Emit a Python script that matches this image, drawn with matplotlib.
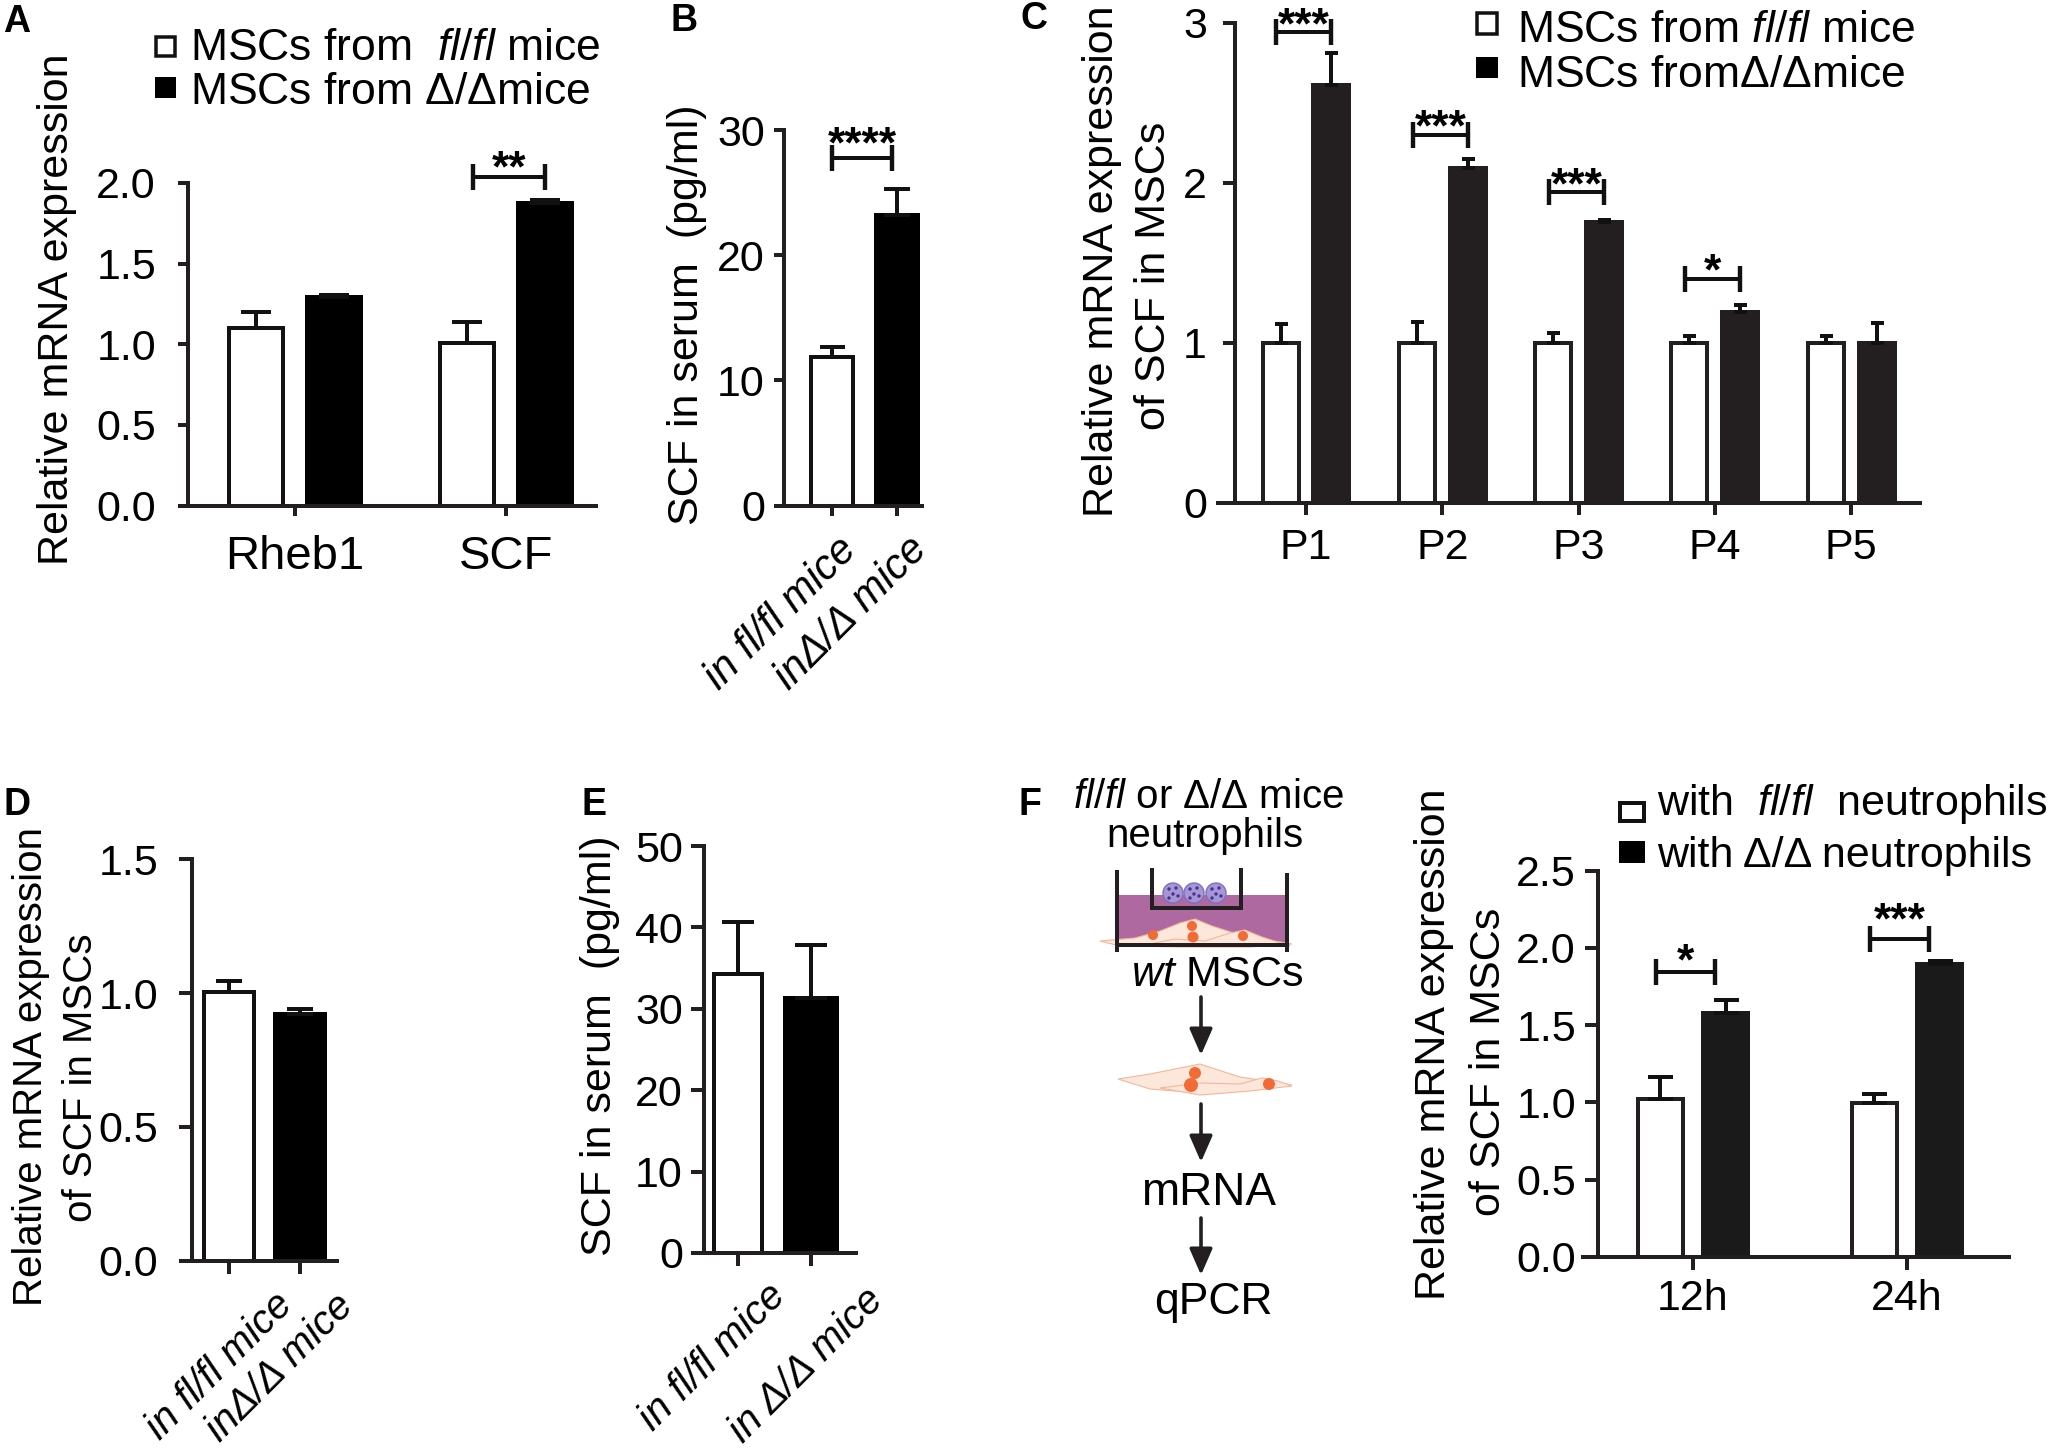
import numpy as np
import matplotlib
matplotlib.use('Agg')
import matplotlib.pyplot as plt
from matplotlib.patches import Rectangle, Circle, Polygon
from matplotlib.ticker import FormatStrFormatter
from matplotlib.transforms import ScaledTranslation

plt.rcParams.update({
    'font.family': ['Liberation Sans', 'DejaVu Sans'],
    'mathtext.fontset': 'custom',
    'mathtext.rm': 'Liberation Sans',
    'mathtext.it': 'Liberation Sans:italic',
    'mathtext.bf': 'Liberation Sans:bold',
    'mathtext.sf': 'Liberation Sans',
})

# ---------------- data ----------------
A_genes = ['Rheb1', 'SCF']
A_fl = [1.10, 1.01]
A_fl_err = [0.10, 0.13]
A_dd = [1.295, 1.875]
A_dd_err = [0.01, 0.02]
A_sig = [None, ('**', 2.04)]
A_ticks = [0.0, 0.5, 1.0, 1.5, 2.0]

B_groups = ['in fl/fl mice', 'inΔ/Δ mice']
B_vals = [11.9, 23.2]
B_err = [0.8, 2.1]
B_sig = ('****', 27.8)
B_ticks = [0, 10, 20, 30]

C_passages = ['P1', 'P2', 'P3', 'P4', 'P5']
C_fl = [1.0, 1.0, 1.0, 1.0, 1.0]
C_fl_err = [0.12, 0.13, 0.06, 0.04, 0.045]
C_dd = [2.61, 2.09, 1.755, 1.19, 1.0]
C_dd_err = [0.20, 0.055, 0.01, 0.045, 0.125]
C_sig = [('***', 2.94), ('***', 2.30), ('***', 1.94), ('*', 1.40), None]
C_ticks = [0, 1, 2, 3]

D_groups = ['in fl/fl mice', 'inΔ/Δ mice']
D_vals = [1.005, 0.922]
D_err = [0.04, 0.02]
D_ticks = [0.0, 0.5, 1.0, 1.5]

E_groups = ['in fl/fl mice', 'in Δ/Δ mice']
E_vals = [34.3, 31.3]
E_err = [6.4, 6.5]
E_ticks = [0, 10, 20, 30, 40, 50]

F_times = ['12h', '24h']
F_fl = [1.02, 0.995]
F_fl_err = [0.145, 0.06]
F_dd = [1.58, 1.893]
F_dd_err = [0.085, 0.025]
F_sig = [('*', 1.846), ('***', 2.056)]
F_ticks = [0.0, 0.5, 1.0, 1.5, 2.0, 2.5]

# ---------------- layout helpers ----------------
W, H, DPI = 2053, 1453, 100
PT = 72.0 / DPI          # points per pixel
LW = 4 * PT              # axis / bar line width
TICKFS = 31
fig = plt.figure(figsize=(W / DPI, H / DPI), dpi=DPI, facecolor='white')


def panel(xl, xs, xr, yt, yb, t0, sep, ymax, ticks, fmt, ypad, xpad, ticklen=10):
    ax = fig.add_axes([xl / W, 1 - yb / H, (xr - xl) / W, (yb - yt) / H])
    ax.set_facecolor('none')
    for s in ('top', 'right'):
        ax.spines[s].set_visible(False)
    for s in ('left', 'bottom'):
        ax.spines[s].set_linewidth(LW)
        ax.spines[s].set_color('#231f20')
    ax.spines['left'].set_position(('axes', (xs - xl) / (xr - xl)))
    ax.set_xlim((xl - t0) / sep, (xr - t0) / sep)
    ax.set_ylim(0, ymax)
    ax.set_yticks(ticks)
    ax.yaxis.set_major_formatter(FormatStrFormatter(fmt))
    ax.tick_params(axis='both', direction='out', width=LW, length=ticklen * PT,
                   labelsize=TICKFS, color='#231f20')
    ax.tick_params(axis='y', pad=ypad * PT)
    ax.tick_params(axis='x', pad=xpad * PT)
    ax._geom = (xl, xr, yt, yb)
    return ax


def bars(ax, xs, vals, errs, width, face, edge, cap_px):
    xs = np.asarray(xs, float)
    ax.bar(xs, vals, width, color=face, edgecolor=edge, linewidth=LW, zorder=2)
    ax.errorbar(xs, vals, yerr=[np.zeros(len(vals)), errs], fmt='none', ecolor='#111111',
                elinewidth=LW, capsize=cap_px * PT / 2, capthick=LW, zorder=3)


def bracket(ax, x1, x2, y, stars, dy=0, fs=32):
    ax.plot([x1, x2], [y, y], color='#111111', lw=LW, clip_on=False,
            solid_capstyle='butt', zorder=4)
    ax.plot([x1, x2], [y, y], ls='none', marker='|', ms=26 * PT, mew=LW * 1.1,
            color='#111111', clip_on=False, zorder=4)
    ax.annotate(stars, xy=((x1 + x2) / 2, y), xytext=(0, dy),
                textcoords='offset pixels', ha='center', va='baseline', fontsize=fs,
                fontweight='bold', annotation_clip=False)


def ylab(ax, text, base_px, cy_px, fs=30, first=True):
    xl, xr, yt, yb = ax._geom
    xa = (base_px - xl) / (xr - xl)
    ya = (yb - cy_px) / (yb - yt)
    if first:
        ax.set_ylabel(text, fontsize=fs, va='baseline', ha='center')
        ax.yaxis.set_label_coords(xa, ya)
    else:
        ax.text(xa, ya, text, transform=ax.transAxes, rotation=90, rotation_mode='anchor',
                ha='center', va='baseline', fontsize=fs, clip_on=False)


def rot_labels(ax, labels, offsets, fs=30):
    ax.set_xticklabels([''] * len(labels))
    for i, (lab, (dx, dy)) in enumerate(zip(labels, offsets)):
        tr = ax.get_xaxis_transform() + ScaledTranslation(dx / DPI, -dy / DPI, fig.dpi_scale_trans)
        ax.text(i, 0, lab, transform=tr, rotation=45, rotation_mode='anchor', ha='right',
                va='top', fontsize=fs, fontstyle='italic', clip_on=False)


# ---------------- Panel A ----------------
axA = panel(183, 188, 596, 183, 505.5, 295, 211, 2.0, A_ticks, '%.1f', ypad=22, xpad=19)
xA = np.arange(len(A_genes))
offA, wA = 0.187, 0.256
bars(axA, xA - offA, A_fl, A_fl_err, wA, 'white', '#111111', 30)
bars(axA, xA + offA, A_dd, A_dd_err, wA, 'black', 'black', 30)
axA.set_xticks(xA)
axA.set_xticklabels(A_genes, fontsize=34)
for i, s in enumerate(A_sig):
    if s:
        bracket(axA, i - offA + 0.03, i + offA, s[1], s[0], dy=-5)
ylab(axA, 'Relative mRNA expression', 68, 309, fs=31)

# ---------------- Panel B ----------------
axB = panel(784, 784, 922, 130, 505.5, 832, 65, 30, B_ticks, '%d', ypad=9, xpad=0)
xB = np.arange(len(B_groups))
bars(axB, xB[:1], B_vals[:1], B_err[:1], 0.64, 'white', '#111111', 25)
bars(axB, xB[1:], B_vals[1:], B_err[1:], 0.64, 'black', 'black', 27)
axB.set_xticks(xB)
rot_labels(axB, B_groups, [(4, 24), (10, 24)], fs=30)
bracket(axB, 0.0, 0.93, B_sig[1], B_sig[0], dy=0)
ylab(axB, 'SCF in serum  (pg/ml)', 698, 315, fs=31)

# ---------------- Panel C ----------------
axC = panel(1218, 1235, 1920, 22.5, 503, 1306, 136.3, 3, C_ticks, '%d', ypad=16, xpad=13, ticklen=12)
xC = np.arange(len(C_passages))
offC, wC = 0.187, 0.264
bars(axC, xC - offC, C_fl, C_fl_err, wC, 'white', '#231f20', 13)
bars(axC, xC + offC, C_dd, C_dd_err, wC, '#231f20', '#231f20', 13)
axC.set_xticks(xC)
axC.set_xticklabels(C_passages, fontsize=31)
for i, s in enumerate(C_sig):
    if s:
        bracket(axC, i - offC - 0.03, i + offC, s[1], s[0], dy=-6)
ylab(axC, 'Relative mRNA expression', 1113, 261, fs=31)
ylab(axC, 'of SCF in MSCs', 1165, 276, fs=31, first=False)

# ---------------- Panel D ----------------
axD = panel(183, 192, 337, 859, 1261, 229, 71, 1.5, D_ticks, '%.1f', ypad=21, xpad=0, ticklen=13)
xD = np.arange(len(D_groups))
bars(axD, xD[:1], D_vals[:1], D_err[:1], 0.70, 'white', '#111111', 26)
bars(axD, xD[1:], D_vals[1:], D_err[1:], 0.70, 'black', 'black', 26)
axD.set_xticks(xD)
rot_labels(axD, D_groups, [(44, 24), (34, 26)], fs=29)
ylab(axD, 'Relative mRNA expression', 42, 1066, fs=29)
ylab(axD, 'of SCF in MSCs', 92, 1078, fs=29, first=False)

# ---------------- Panel E ----------------
axE = panel(704, 704, 856, 846, 1253, 738, 73, 50, E_ticks, '%d', ypad=8, xpad=0, ticklen=13)
xE = np.arange(len(E_groups))
bars(axE, xE[:1], E_vals[:1], E_err[:1], 0.66, 'white', '#111111', 32)
bars(axE, xE[1:], E_vals[1:], E_err[1:], 0.70, 'black', 'black', 32)
axE.set_xticks(xE)
rot_labels(axE, E_groups, [(28, 23), (53, 28)], fs=29)
ylab(axE, 'SCF in serum  (pg/ml)', 611, 1046, fs=31)

# ---------------- Panel F (chart) ----------------
axF = panel(1583, 1598, 2009, 870.7, 1256.7, 1693, 214, 2.5, F_ticks, '%.1f', ypad=9, xpad=9, ticklen=13)
xF = np.arange(len(F_times))
offF, wF = 0.152, 0.21
bars(axF, xF - offF, F_fl, F_fl_err, wF, 'white', '#231f20', 25)
bars(axF, xF + offF, F_dd, F_dd_err, wF, '#1a1a1a', '#1a1a1a', 25)
axF.set_xticks(xF)
axF.set_xticklabels(F_times, fontsize=31)
for i, s in enumerate(F_sig):
    if s:
        bracket(axF, i - offF - 0.02, i + offF - 0.05, s[1], s[0], dy=-3 if i == 0 else 6)
ylab(axF, 'Relative mRNA expression', 1445, 1044, fs=31)
ylab(axF, 'of SCF in MSCs', 1500, 1062, fs=31, first=False)

# ---------------- overlay: letters, legends, schematic ----------------
ov = fig.add_axes([0, 0, 1, 1])
ov.set_xlim(0, W)
ov.set_ylim(H, 0)
ov.axis('off')
ov.patch.set_alpha(0)

for letter, (lx, ly) in {'A': (17, 22), 'B': (684, 21), 'C': (1034, 19),
                         'D': (17, 805), 'E': (594, 805), 'F': (1030, 805)}.items():
    ov.text(lx, ly, letter, ha='center', va='center', fontsize=27, fontweight='bold')


def legend_item(box, face, lw_px, tx, ty, label, fs=32):
    x0, y0, x1, y1 = box
    ov.add_patch(Rectangle((x0, y0), x1 - x0, y1 - y0, facecolor=face, edgecolor='#111111',
                           lw=lw_px * PT, zorder=5))
    ov.text(tx, ty, label, ha='left', va='baseline', fontsize=fs, zorder=5)


legend_item((156, 37, 175, 56), 'white', 3.5, 190, 60, r'MSCs from  $\mathit{fl/fl}$ mice')
legend_item((155, 77, 176, 98), 'black', 0, 190, 104, r'MSCs from $\mathit{Δ/Δ}$mice')
legend_item((1477, 13, 1497, 34), 'white', 3.5, 1517, 42, r'MSCs from $\mathit{fl/fl}$ mice')
legend_item((1476, 57, 1498, 78), 'black', 0, 1517, 87, r'MSCs from$\mathit{Δ/Δ}$mice')
legend_item((1620, 803, 1644, 821), 'white', 4, 1657, 815, r'with  $\mathit{fl/fl}$  neutrophils', fs=31)
legend_item((1619, 841, 1645, 863), 'black', 0, 1657, 867, 'with Δ/Δ neutrophils', fs=31)

# schematic of the transwell co-culture
ink = '#231f20'
ov.add_patch(Rectangle((1117, 895), 170, 49, facecolor='#ad69a0', edgecolor='none', zorder=1))
cell_kw = dict(facecolor='#fde7da', edgecolor='#f2b79b', lw=0.8, zorder=2)
ov.add_patch(Polygon([(1100, 941), (1135, 938), (1160, 931), (1180, 923), (1195, 919), (1212, 926),
                      (1240, 935), (1292, 944), (1250, 947), (1180, 947), (1120, 946)], **cell_kw))
ov.add_patch(Polygon([(1140, 946), (1175, 939), (1205, 941), (1230, 933), (1245, 930), (1262, 937),
                      (1290, 946)], **cell_kw))
for (cx, cy, r) in [(1153, 935, 5), (1192, 926, 5), (1193, 937, 5.5), (1243, 936, 5)]:
    ov.add_patch(Circle((cx, cy), r, facecolor='#f26a35', edgecolor='none', zorder=3))
ov.plot([1117, 1117], [870, 952], color=ink, lw=LW, zorder=4, solid_capstyle='butt')
ov.plot([1287, 1287], [873, 952], color=ink, lw=LW, zorder=4, solid_capstyle='butt')
ov.plot([1117, 1287], [945, 945], color=ink, lw=LW, zorder=4, solid_capstyle='butt')
ov.plot([1152, 1152, 1241, 1241], [868, 908, 908, 868], color=ink, lw=LW, zorder=4,
        solid_joinstyle='miter', solid_capstyle='butt')
for nx in (1173, 1194, 1216):
    ov.add_patch(Circle((nx, 893), 10, facecolor='#a596d6', edgecolor='#7f6fbf', lw=1, zorder=3))
    for ddx, ddy in [(-4, -4), (3, -5), (0, 1), (-4, 5), (5, 3)]:
        ov.add_patch(Circle((nx + ddx, 893 + ddy), 1.7, facecolor='#4d2f8f', edgecolor='none', zorder=3))

ov.add_patch(Polygon([(1118, 1079), (1150, 1074), (1180, 1068), (1200, 1064), (1215, 1069), (1240, 1077),
                      (1292, 1085), (1245, 1089), (1200, 1093), (1150, 1089)], **cell_kw))
ov.add_patch(Polygon([(1160, 1088), (1200, 1083), (1240, 1084), (1262, 1078), (1278, 1081), (1292, 1086),
                      (1250, 1091), (1200, 1095)], **cell_kw))
for (cx, cy, r) in [(1195, 1073, 6), (1191, 1085, 7), (1269, 1084, 6)]:
    ov.add_patch(Circle((cx, cy), r, facecolor='#f26a35', edgecolor='none', zorder=3))

for (y0, y1) in [(997, 1055), (1104, 1162), (1218, 1275)]:
    ov.annotate('', xy=(1201, y1), xytext=(1201, y0),
                arrowprops=dict(arrowstyle='-|>,head_length=0.8,head_width=0.35', mutation_scale=20,
                                lw=LW * 0.9, color=ink, shrinkA=0, shrinkB=0))

ov.text(1208, 808, r'$\mathit{fl/fl}$ or Δ/Δ mice', ha='center', va='baseline', fontsize=29)
ov.text(1205, 847, 'neutrophils', ha='center', va='baseline', fontsize=29)
ov.text(1217, 986, r'$\mathit{wt}$ MSCs', ha='center', va='baseline', fontsize=31)
ov.text(1209, 1205, 'mRNA', ha='center', va='baseline', fontsize=33)
ov.text(1213, 1314, 'qPCR', ha='center', va='baseline', fontsize=32)

fig.savefig('out.png', dpi=DPI, facecolor='white')
